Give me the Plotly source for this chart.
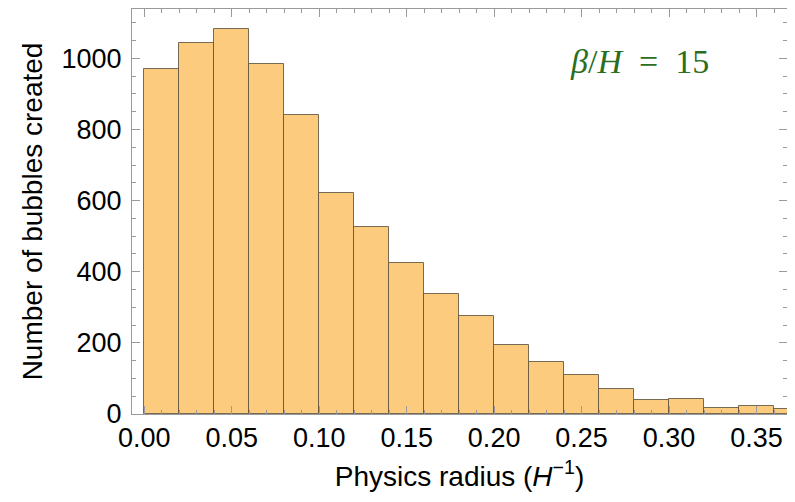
import plotly.graph_objects as go

# Histogram data: bin starts (H^-1), bin width and counts
bin_starts = [0.00, 0.02, 0.04, 0.06, 0.08, 0.10, 0.12, 0.14, 0.16, 0.18,
              0.20, 0.22, 0.24, 0.26, 0.28, 0.30, 0.32, 0.34, 0.36]
bin_width = 0.02
counts = [970, 1042, 1083, 984, 842, 622, 526, 425, 338, 275,
          194, 146, 110, 70, 39, 43, 16, 22, 14]

x_ticks = [0.00, 0.05, 0.10, 0.15, 0.20, 0.25, 0.30, 0.35]
y_ticks = [0, 200, 400, 600, 800, 1000]

centers = [s + bin_width / 2 for s in bin_starts]

fig = go.Figure()
fig.add_trace(go.Bar(
    x=centers, y=counts, width=bin_width,
    marker=dict(color="#FCCB7E", line=dict(color="rgba(95,85,65,0.85)", width=1)),
    showlegend=False,
))

font_family = "Liberation Sans, Arial, Helvetica, sans-serif"
axis_common = dict(
    showline=True, linecolor="#9a9a9a", linewidth=1, mirror="ticks",
    ticks="inside", ticklen=8, tickcolor="#9a9a9a", tickwidth=1,
    showgrid=False, zeroline=False, automargin=False,
    tickfont=dict(family=font_family, size=27, color="black"),
)

fig.update_xaxes(
    range=[-0.0070, 0.3674], tickvals=x_ticks, tickformat=".2f",
    minor=dict(dtick=0.01, ticks="inside", ticklen=4, tickcolor="#9a9a9a", showgrid=False),
    title=dict(text="Physics radius (<i>H</i><sup>−1</sup>)",
               font=dict(family=font_family, size=28, color="black"), standoff=13),
    **axis_common,
)
fig.update_yaxes(
    range=[0, 1139], tickvals=y_ticks, ticklabelstandoff=4,
    minor=dict(dtick=50, ticks="inside", ticklen=4, tickcolor="#9a9a9a", showgrid=False),
    title=dict(text="Number of bubbles created",
               font=dict(family=font_family, size=28, color="black"), standoff=10),
    **axis_common,
)

fig.add_annotation(
    x=0.283, y=990, xref="x", yref="y", showarrow=False,
    text="<i>β</i>/<i>H</i>\u2002=\u200215",
    font=dict(family="Liberation Serif, Times New Roman, serif", size=34, color="#2a6e22"),
)

# page body has an 8px default margin, so the figure is 8px smaller and margins shifted
fig.update_layout(
    width=787, height=494,
    margin=dict(l=124, r=8, t=1, b=88),
    plot_bgcolor="white", paper_bgcolor="white",
    bargap=0,
)

fig.write_html("out.html")
